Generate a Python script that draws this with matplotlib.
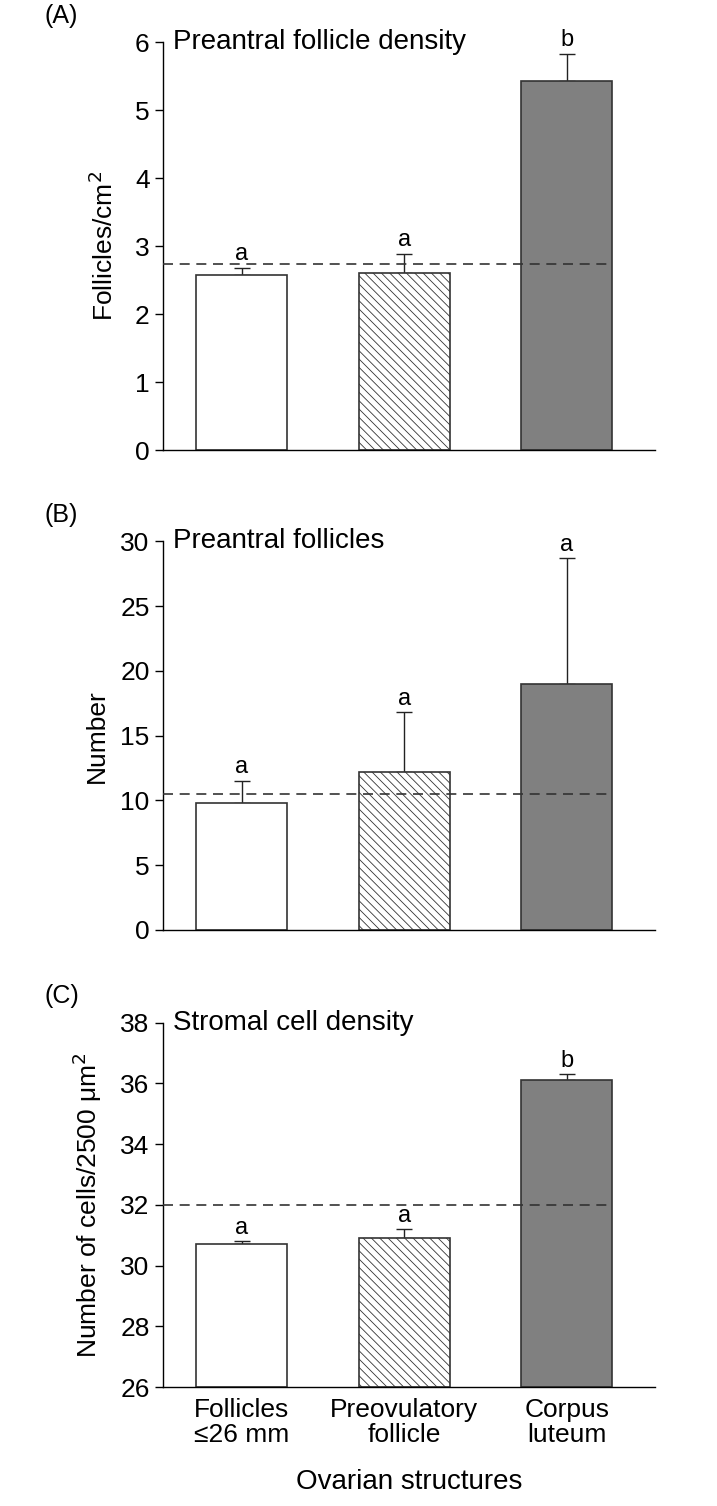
import matplotlib.pyplot as plt

# Data
categories = ["Follicles\n≤26 mm", "Preovulatory\nfollicle", "Corpus\nluteum"]

density_mean = [2.58, 2.60, 5.43]
density_err = [0.10, 0.29, 0.40]
density_ref = 2.74
density_letters = ["a", "a", "b"]

number_mean = [9.8, 12.2, 19.0]
number_err = [1.7, 4.6, 9.7]
number_ref = 10.5
number_letters = ["a", "a", "a"]

stromal_mean = [30.7, 30.9, 36.1]
stromal_err = [0.1, 0.3, 0.2]
stromal_ref = 32.0
stromal_letters = ["a", "a", "b"]

plt.rcParams['font.family'] = ['Liberation Sans Narrow', 'Liberation Sans', 'DejaVu Sans']
plt.rcParams['hatch.linewidth'] = 0.6

fig = plt.figure(figsize=(7.17, 15.06), dpi=100)

left, width = 0.227, 0.686
axA = fig.add_axes([left, 0.701, width, 0.271])
axB = fig.add_axes([left, 0.3825, width, 0.258])
axC = fig.add_axes([left, 0.079, width, 0.242])

x = [0, 1, 2]
bar_w = 0.56
xmin, xmax = -0.485, 2.54
faces = ['white', 'white', '#808080']
hatches = ['', '\\\\\\\\', '']


def draw_panel(ax, means, errs, ref, letters, ylim, yticks, title, ylabel, tag, letter_pad, lpad):
    bars = ax.bar(x, [m - ylim[0] for m in means], bottom=ylim[0], width=bar_w,
                  color=faces, edgecolor='#333333', linewidth=1.2, zorder=2)
    for b, h in zip(bars, hatches):
        b.set_hatch(h)
    ax.errorbar(x, means, yerr=[[0, 0, 0], errs], fmt='none', ecolor='#222222',
                elinewidth=1.0, capsize=6, capthick=1.0, zorder=1)
    ax.hlines(ref, xmin, 2 + bar_w / 2, colors='#333333', linestyles=(0, (6, 4)),
              linewidth=1.2, zorder=3)
    for xi, m, e, l in zip(x, means, errs, letters):
        ax.text(xi, m + e + letter_pad, l, ha='center', va='bottom', fontsize=17)
    ax.set_xlim(xmin, xmax)
    ax.set_ylim(ylim)
    ax.set_yticks(yticks)
    ax.tick_params(axis='y', labelsize=19, length=6, width=1.0, direction='out')
    ax.tick_params(axis='x', length=0)
    ax.spines['top'].set_visible(False)
    ax.spines['right'].set_visible(False)
    ax.spines['left'].set_linewidth(1.0)
    ax.spines['bottom'].set_linewidth(1.0)
    ax.text(0.02, 1.0, title, transform=ax.transAxes, ha='left', va='center', fontsize=20)
    ax.set_ylabel(ylabel, fontsize=19, family=['Liberation Sans', 'DejaVu Sans'], labelpad=lpad)
    ax.annotate(tag, xy=(0, 1), xycoords='axes fraction', xytext=(-85, 19),
                textcoords='offset points', ha='left', va='center', fontsize=18)


draw_panel(axA, density_mean, density_err, density_ref, density_letters,
           (0, 6), range(0, 7), "Preantral follicle density", "Follicles/cm$^2$", "(A)", 0.04, 12)
axA.set_xticks([])

draw_panel(axB, number_mean, number_err, number_ref, number_letters,
           (0, 30), range(0, 31, 5), "Preantral follicles", "Number", "(B)", 0.2, 8)
axB.set_xticks([])

draw_panel(axC, stromal_mean, stromal_err, stromal_ref, stromal_letters,
           (26, 38), range(26, 39, 2), "Stromal cell density",
           "Number of cells/2500 μm$^2$", "(C)", 0.08, 12)
axC.set_xticks(x)
axC.set_xticklabels(categories, fontsize=19, linespacing=1.05)
axC.tick_params(axis='x', pad=8)
axC.set_xlabel("Ovarian structures", fontsize=20, family=['Liberation Sans', 'DejaVu Sans'], labelpad=16)

fig.savefig("out.png", dpi=100)
